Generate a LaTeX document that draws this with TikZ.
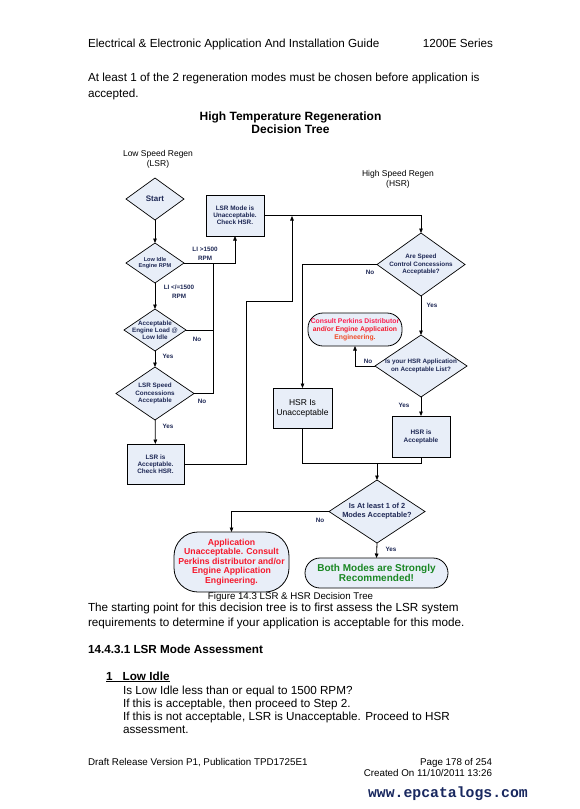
\documentclass[tikz,border=0pt]{standalone}
\usepackage{fontspec}
\setmainfont{Liberation Sans}
\setmonofont{Liberation Mono}
\usetikzlibrary{shapes.geometric,arrows.meta}
\definecolor{ink}{RGB}{30,40,85}
\definecolor{boxfill}{RGB}{232,238,248}
\definecolor{redtxt}{RGB}{245,25,45}
\definecolor{pinktxt}{RGB}{250,30,80}
\definecolor{orangetxt}{RGB}{240,75,40}
\definecolor{greentxt}{RGB}{25,135,35}
\definecolor{urlcol}{RGB}{25,40,95}
\tikzset{
 every node/.style={inner sep=0pt, outer sep=0pt},
 dia/.style={diamond, draw=black, fill=boxfill, line width=0.7pt, inner sep=0pt},
 rbox/.style={rectangle, draw=black, fill=boxfill, line width=0.8pt},
 pill/.style={rectangle, draw=black, fill=boxfill, line width=0.8pt},
 dtext/.style={align=center, font=\fontsize{6.3}{7.2}\selectfont\bfseries, text=ink},
 lbl/.style={align=center, font=\fontsize{6.3}{8.6}\selectfont\bfseries, text=ink},
 conn/.style={line width=0.8pt, draw=black},
 arr/.style={conn, -{Triangle[length=4.5pt,width=3.6pt]}},
 bodytxt/.style={anchor=base west, font=\fontsize{11.7}{14}\selectfont},
 foottxt/.style={font=\fontsize{9.8}{11}\selectfont},
}
\begin{document}
\begin{tikzpicture}[x=1pt,y=-1pt]
\fill[white] (0,0) rectangle (580,809);
\useasboundingbox (0,0) rectangle (580,809);

% header and intro
\node[bodytxt] (hdr) at (88,47) {Electrical \& Electronic Application And Installation Guide};
\node[anchor=base east, font=\fontsize{11.7}{14}\selectfont] (series) at (493,47) {1200E Series};
\node[bodytxt] (intro1) at (88,81.5) {At least 1 of the 2 regeneration modes must be chosen before application is};
\node[bodytxt] (intro2) at (88,97.5) {accepted.};
\node[anchor=base, font=\fontsize{12}{13}\selectfont\bfseries] (title1) at (290.5,120) {High Temperature Regeneration};
\node[anchor=base, font=\fontsize{12}{13}\selectfont\bfseries] (title2) at (290.5,133) {Decision Tree};

\node[align=center, font=\fontsize{8.5}{10}\selectfont] (lsrhead) at (158,159) {Low Speed Regen\\(LSR)};
\node[align=center, font=\fontsize{8.5}{10}\selectfont] (hsrhead) at (398,179.5) {High Speed Regen\\(HSR)};

% LSR column
\node[dia, minimum width=58pt, minimum height=42pt] (start) at (155,199) {};
\node[dtext, font=\fontsize{8}{9}\selectfont\bfseries] (startT) at (start) {Start};
\node[dia, minimum width=58pt, minimum height=40pt] (lowidle) at (155,263) {};
\node[dtext, font=\fontsize{5.6}{6.8}\selectfont\bfseries] (lowidleT) at (lowidle) {Low Idle\\Engine RPM};
\node[dia, minimum width=62pt, minimum height=42pt] (engload) at (155,330) {};
\node[dtext] (engloadT) at (engload) {Acceptable\\Engine Load @\\Low Idle};
\node[dia, minimum width=78pt, minimum height=53pt] (lsrspeed) at (155,393.5) {};
\node[dtext] (lsrspeedT) at (lsrspeed) {LSR Speed\\Concessions\\Acceptable};
\node[rbox, minimum width=57pt, minimum height=40pt] (lsracc) at (155.5,464) {};
\node[dtext, font=\fontsize{6.4}{7.2}\selectfont\bfseries] (lsraccT) at (lsracc) {LSR is\\Acceptable.\\Check HSR.};
\node[rbox, minimum width=58pt, minimum height=41pt] (lsrmode) at (235,215.5) {};
\node[dtext, font=\fontsize{6.4}{7}\selectfont\bfseries] (lsrmodeT) at (lsrmode) {LSR Mode is\\Unacceptable.\\Check HSR.};

% HSR column
\node[dia, minimum width=88pt, minimum height=63pt] (speedconc) at (421,264.5) {};
\node[dtext] (speedconcT) at (speedconc) {Are Speed\\Control Concessions\\Acceptable?};
\node[dia, minimum width=92pt, minimum height=62pt] (hsrlist) at (421,366) {};
\node[dtext, font=\fontsize{6.3}{8}\selectfont\bfseries] (hsrlistT) at (hsrlist) {Is your HSR Application\\on Acceptable List?};
\node[pill, rounded corners=15pt, minimum width=94pt, minimum height=33pt] (consult) at (355,329.5) {};
\node[align=center, font=\fontsize{6.8}{8}\selectfont\bfseries] (consultT) at (consult)
  {\textcolor{pinktxt}{Consult Perkins Distributor}\\\textcolor{redtxt}{and/or Engine Application}\\\textcolor{orangetxt}{Engineering.}};
\node[rbox, minimum width=59pt, minimum height=40pt] (hsrunacc) at (302.5,408) {};
\node[align=center, font=\fontsize{8.5}{10}\selectfont] (hsrunaccT) at (hsrunacc) {HSR Is\\Unacceptable};
\node[rbox, minimum width=58pt, minimum height=41pt] (hsracc) at (421,436.5) {};
\node[dtext, font=\fontsize{6.5}{8}\selectfont\bfseries] (hsraccT) at (hsracc) {HSR is\\Acceptable};

% final decision
\node[dia, minimum width=96pt, minimum height=63pt] (atleast) at (377,511.5) {};
\node[dtext, font=\fontsize{7.4}{9}\selectfont\bfseries] (atleastT) at (atleast) {Is At least 1 of 2\\Modes Acceptable?};
\node[pill, rounded corners=24pt, minimum width=115pt, minimum height=60pt] (appunacc) at (231.5,562) {};
\node[align=center, font=\fontsize{8.7}{9.4}\selectfont\bfseries, text=redtxt] (appunaccT) at (appunacc)
  {Application\\Unacceptable. Consult\\Perkins distributor and/or\\Engine Application\\Engineering.};
\node[pill, rounded corners=15pt, minimum width=143pt, minimum height=30pt] (both) at (376.5,573) {};
\node[align=center, font=\fontsize{10}{10.8}\selectfont\bfseries, text=greentxt] (bothT) at (both) {Both Modes are Strongly\\Recommended!};

% coordinates for connectors
\coordinate (jno) at (213,263);
\coordinate (c1) at (246,301);
\coordinate (c2) at (292,301);
\coordinate (c3) at (292,216);
\coordinate (m1) at (302.5,463);
\coordinate (m2) at (421,463);
\coordinate (mid) at (377,463);

% connectors
\draw[arr] (start) -- (lowidle);
\draw[arr] (lowidle) -- (engload);
\draw[arr] (engload) -- (lsrspeed);
\draw[arr] (lsrspeed) -- (lsracc);
\draw[arr] (lowidle.east) -| (lsrmode.south);
\draw[conn] (engload.east) -- (engload.east -| jno);
\draw[conn] (lsrspeed.east) -| (jno);
\draw[arr] (lsracc.east) -| (c1) -- (c2) -- (c3);
\draw[arr] (lsrmode.east) -| (speedconc.north);
\draw[arr] (speedconc.west) -| (hsrunacc.north);
\draw[arr] (speedconc.south) -- (hsrlist.north);
\draw[arr] (hsrlist.west) -| (consult.south);
\draw[arr] (hsrlist.south) -- (hsracc.north);
\draw[conn] (hsrunacc.south) -- (m1) -- (m2) -- (hsracc.south);
\draw[arr] (mid) -- (atleast.north);
\draw[arr] (atleast.west) -| (appunacc.north);
\draw[arr] (atleast.south) -- (both.north);

% connector labels
\node[lbl] (l1) at (205,253.5) {LI >1500\\RPM};
\node[lbl] (l2) at (179,291.5) {LI </=1500\\RPM};
\node[lbl] (l3) at (197,339) {No};
\node[lbl] (l4) at (168,356) {Yes};
\node[lbl] (l5) at (202,401) {No};
\node[lbl] (l6) at (168,426) {Yes};
\node[lbl] (l7) at (370,272) {No};
\node[lbl] (l8) at (432,305) {Yes};
\node[lbl] (l9) at (368,361) {No};
\node[lbl] (l10) at (404,405) {Yes};
\node[lbl] (l11) at (320,520) {No};
\node[lbl] (l12) at (391,549) {Yes};

% caption and text below
\node[anchor=base, font=\fontsize{9.7}{11}\selectfont] (cap) at (290.5,599) {Figure 14.3 LSR \& HSR Decision Tree};
\node[bodytxt] (p1) at (88,611.5) {The starting point for this decision tree is to first assess the LSR system};
\node[bodytxt] (p2) at (88,626.5) {requirements to determine if your application is acceptable for this mode.};
\node[bodytxt, font=\fontsize{11.7}{14}\selectfont\bfseries] (sec) at (88,653.5) {14.4.3.1 LSR Mode Assessment};
\node[bodytxt, font=\fontsize{11.7}{14}\selectfont\bfseries] (item) at (106,680) {\underline{1\hspace{10.2pt}Low Idle}};
\node[bodytxt] (q1) at (123,694) {Is Low Idle less than or equal to 1500 RPM?};
\node[bodytxt] (q2) at (123,707.5) {If this is acceptable, then proceed to Step 2.};
\node[bodytxt] (q3) at (123,720.5) {If this is not acceptable, LSR is Unacceptable. Proceed to HSR};
\node[bodytxt] (q4) at (123,733.5) {assessment.};

% footer
\node[foottxt, anchor=base west] (f1) at (88,765) {Draft Release Version P1, Publication TPD1725E1};
\node[foottxt, anchor=base east] (f2) at (492,765) {Page 178 of 254};
\node[foottxt, anchor=base east] (f3) at (492,776) {Created On 11/10/2011 13:26};
\node[anchor=base west, font=\fontsize{14.8}{16}\ttfamily\bfseries, text=urlcol] (url) at (368,797) {www.epcatalogs.com};
\end{tikzpicture}
\end{document}
